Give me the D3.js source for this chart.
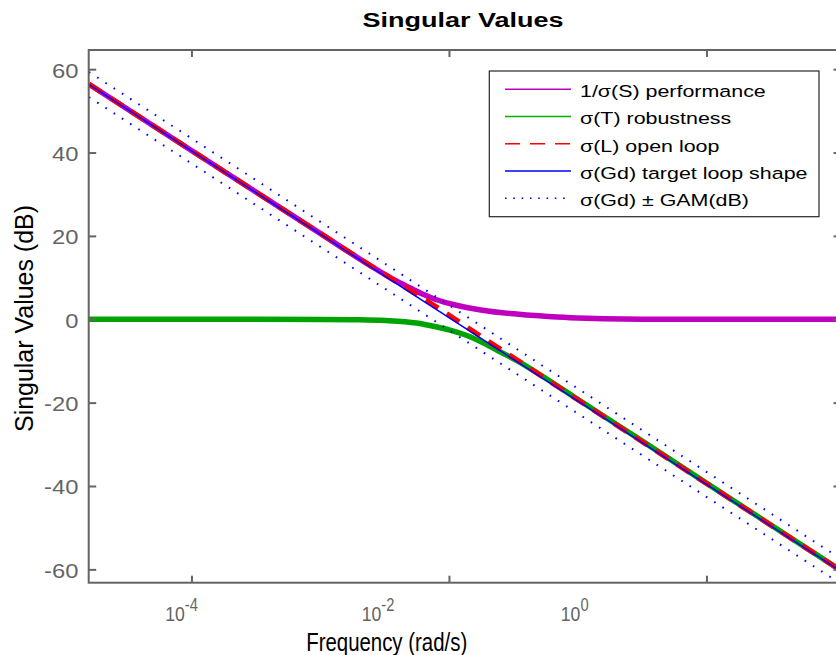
<!DOCTYPE html>
<html><head><meta charset="utf-8">
<script src="https://cdn.jsdelivr.net/npm/d3@7"></script>
<style>body{margin:0;background:#fff}svg{display:block}</style>
</head><body><svg id="c" width="836" height="655"></svg>
<script>
// ---------- data ----------
const freqGd = [1.6e-5, 1e-4, 1e-3, 1e-2, 1e-1, 1, 11.1];
const gdDb   = [56.3, 40.4, 20.4, 0.4, -19.6, -39.6, -60.5];
const gamDb  = 3.0;

const freqL = [1.6e-5, 1e-4, 1e-3, 3e-3, 6e-3, 1e-2, 1.6e-2, 3e-2, 1e-1, 1, 11.1];
const lDb   = [56.4, 40.5, 20.6, 11.2, 5.4, 1.0, -3.2, -8.7, -19.3, -39.4, -60.3];

const freqS  = [1.6e-5, 1e-4, 1e-3, 2.5e-3, 3.2e-3, 4e-3, 5e-3, 6.3e-3, 7.9e-3, 1e-2, 1.26e-2, 1.6e-2, 2e-2, 2.5e-2, 3.2e-2, 4e-2, 5e-2, 6.3e-2, 1e-1, 1.6e-1, 3.2e-1, 11.1];
const invSDb = [56.4, 40.5, 20.6, 12.7, 10.7, 9.0, 7.5, 6.0, 4.75, 3.8, 3.05, 2.45, 2.0, 1.62, 1.3, 1.05, 0.82, 0.62, 0.33, 0.14, 0.03, 0];

const freqT = [1.6e-5, 3.2e-4, 1e-3, 1.8e-3, 3.2e-3, 5.6e-3, 7.9e-3, 1.02e-2, 1.41e-2, 1.86e-2, 2.5e-2, 3.4e-2, 5.4e-2, 1e-1, 3.2e-1, 1, 11.1];
const tDb   = [0, 0, -0.03, -0.1, -0.3, -0.9, -1.8, -2.6, -4.0, -5.7, -7.8, -10.0, -13.8, -19.2, -29.3, -39.3, -60.3];

const yTicks = [-60, -40, -20, 0, 20, 40, 60];
const xTicks = [1e-4, 1e-2, 1];
const xTickBase = ["10", "10", "10"];
const xTickExp  = ["-4", "-2", "0"];
const legendLabels = ["1/σ(S) performance", "σ(T) robustness", "σ(L) open loop", "σ(Gd) target loop shape", "σ(Gd) ± GAM(dB)"];
const titleText = "Singular Values";
const xLabelText = "Frequency (rad/s)";
const yLabelText = "Singular Values (dB)";

// ---------- layout ----------
const FONT = "'Liberation Sans', Arial, Helvetica, sans-serif";
const AX = "#646464";
const L = 88.7, R = 841, T = 50, B = 582.7;
const svg = d3.select("#c");
svg.append("rect").attr("width", 836).attr("height", 655).attr("fill", "#fff");

const x = d3.scaleLog().domain([Math.pow(10, -4.798), Math.pow(10, 1.045)]).range([L, R]);
const y = d3.scaleLinear().domain([-63.2, 64.6]).range([B, T]);
const xLab = d3.scaleLog().domain([1e-4, 1]).range([181.5, 574.7]);

svg.append("clipPath").attr("id", "clip").append("rect")
  .attr("x", L).attr("y", T).attr("width", R - L).attr("height", B - T);

const zip = (f, v) => f.map((w, i) => [w, v[i]]);
const line = d3.line().x(d => x(d[0])).y(d => y(d[1])).curve(d3.curveMonotoneX);
const plot = svg.append("g").attr("clip-path", "url(#clip)");

const series = [
  {d: zip(freqS, invSDb), c: "#bf00bf", w: 5.5, dash: null},
  {d: zip(freqT, tDb), c: "#00a300", w: 5.5, dash: null},
  {d: zip(freqL, lDb), c: "#ff0000", w: 5, dash: "15,10"},
  {d: zip(freqGd, gdDb), c: "#0000ff", w: 1.5, dash: null},
  {d: zip(freqGd, gdDb.map(v => v + gamDb)), c: "#0000ff", w: 2, dash: "1.6,8.2"},
  {d: zip(freqGd, gdDb.map(v => v - gamDb)), c: "#0000ff", w: 2, dash: "1.6,8.2"}
];
plot.selectAll("path.s").data(series).join("path").attr("class", "s")
  .attr("d", s => line(s.d)).attr("fill", "none")
  .attr("stroke", s => s.c).attr("stroke-width", s => s.w)
  .attr("stroke-dasharray", s => s.dash).attr("stroke-linecap", "butt");

// ---------- axes ----------
function styleAxis(g) {
  g.select(".domain").remove();
  g.selectAll(".tick line").attr("stroke", AX).attr("stroke-width", 2);
}
svg.append("g").attr("transform", `translate(${L},0)`)
  .call(d3.axisLeft(y).tickValues(yTicks).tickSizeInner(-7.5).tickSizeOuter(0).tickPadding(8.4).tickFormat(d => String(d)))
  .call(styleAxis)
  .call(g => g.selectAll("text").attr("font-family", FONT).attr("font-size", 19.5)
     .attr("fill", AX).attr("dy", "0.41em").attr("transform", "scale(1.22,1)"));
svg.append("g").attr("transform", `translate(${R},0)`)
  .call(d3.axisRight(y).tickValues(yTicks).tickSizeInner(-7.5).tickSizeOuter(0).tickFormat(""))
  .call(styleAxis);
svg.append("g").attr("transform", `translate(0,${B})`)
  .call(d3.axisBottom(x).tickValues(xTicks).tickSizeInner(-7).tickSizeOuter(0).tickFormat(""))
  .call(styleAxis);
svg.append("g").attr("transform", `translate(0,${T})`)
  .call(d3.axisTop(x).tickValues(xTicks).tickSizeInner(-7).tickSizeOuter(0).tickFormat(""))
  .call(styleAxis);

svg.append("rect").attr("x", L).attr("y", T).attr("width", R - L).attr("height", B - T)
  .attr("fill", "none").attr("stroke", AX).attr("stroke-width", 2);

// x tick labels (as drawn in the reference, on their own log scale)
const xt = svg.selectAll("text.xt").data(xTicks).join("text").attr("class", "xt")
  .attr("transform", d => `translate(${xLab(d)},621) scale(0.84,1)`)
  .attr("text-anchor", "middle").attr("font-family", FONT).attr("fill", AX);
xt.append("tspan").attr("font-size", 21).text((d, i) => xTickBase[i]);
xt.append("tspan").attr("font-size", 17.5).attr("dy", -10.5).text((d, i) => xTickExp[i]);

// ---------- titles ----------
svg.append("text").attr("x", 463).attr("y", 27.3).attr("text-anchor", "middle")
  .attr("font-family", FONT).attr("font-weight", "bold").attr("font-size", 19.5)
  .attr("textLength", 201).attr("lengthAdjust", "spacingAndGlyphs").attr("fill", "#000").text(titleText);
svg.append("text").attr("x", 386.7).attr("y", 650.7).attr("text-anchor", "middle")
  .attr("font-family", FONT).attr("font-size", 25)
  .attr("textLength", 161).attr("lengthAdjust", "spacingAndGlyphs").attr("fill", "#000").text(xLabelText);
svg.append("text").attr("transform", "translate(33,318.5) rotate(-90)").attr("text-anchor", "middle")
  .attr("font-family", FONT).attr("font-size", 25)
  .attr("textLength", 227).attr("lengthAdjust", "spacingAndGlyphs").attr("fill", "#000").text(yLabelText);

// ---------- legend ----------
const lg = svg.append("g");
lg.append("rect").attr("x", 489.3).attr("y", 71).attr("width", 329.7).attr("height", 145.7)
  .attr("fill", "#fff").attr("stroke", "#262626").attr("stroke-width", 1.2);
const legStyles = [
  {c: "#bf00bf", dash: null}, {c: "#00b000", dash: null}, {c: "#ff0000", dash: "15,10"},
  {c: "#0000ff", dash: null}, {c: "#0000ff", dash: "1.6,6.7"}
];
const rows = lg.selectAll("g.row").data(legendLabels).join("g").attr("class", "row")
  .attr("transform", (d, i) => `translate(0,${89.3 + i * 27.25})`);
rows.append("line").attr("x1", 505).attr("x2", 571).attr("y1", 0).attr("y2", 0)
  .attr("stroke", (d, i) => legStyles[i].c).attr("stroke-width", 1.5)
  .attr("stroke-dasharray", (d, i) => legStyles[i].dash);
rows.append("text").attr("transform", "translate(580,7.8) scale(1.26,1)")
  .attr("font-family", FONT).attr("font-size", 17).attr("fill", "#000").text(d => d);
</script>
</body></html>
